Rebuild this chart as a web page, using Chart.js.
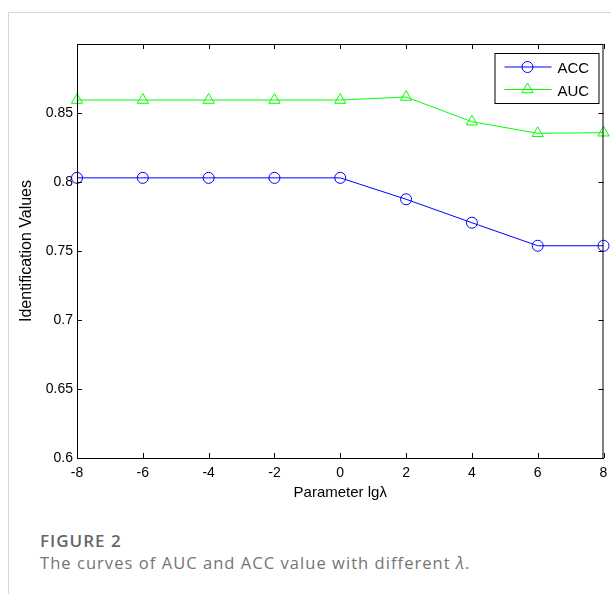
<!DOCTYPE html>
<html>
<head>
<meta charset="utf-8">
<script src="https://cdn.jsdelivr.net/npm/chart.js@4/dist/chart.umd.min.js"></script>
<style>
    body { margin: 0; background: #fff; }
    #frame {
        position: absolute; left: 8px; top: 12px; width: 603px; height: 582px;
        border-left: 1px solid #d6d6d6; border-top: 1px solid #d6d6d6;
    }
    #chartBox { position: absolute; left: 0; top: 0; width: 611px; height: 510px; }
    .figLabel {
        position: absolute; left: 40px; top: 529px; letter-spacing: 1px;
        font-family: "Open Sans", sans-serif; font-weight: 600; font-size: 17px; color: #666;
    }
    .figText {
        position: absolute; left: 40px; top: 551px; letter-spacing: 1.05px;
        font-family: "Open Sans", sans-serif; font-size: 16.5px; color: #747474;
    }
</style>
</head>
<body>
<div id="frame"></div>
<div id="chartBox"><canvas id="lambdaChart" width="611" height="510"></canvas></div>
<div class="figLabel">FIGURE 2</div>
<div class="figText">The curves of AUC and ACC value with different <i>λ</i>.</div>
<script>
// values
const lambdas = [-8, -6, -4, -2, 0, 2, 4, 6, 8];
const accValues = [0.803, 0.803, 0.803, 0.803, 0.803, 0.7875, 0.7705, 0.7538, 0.7538];
const aucValues = [0.8594, 0.8594, 0.8594, 0.8594, 0.8594, 0.8616, 0.8437, 0.8353, 0.8357];
const yTicks = [0.6, 0.65, 0.7, 0.75, 0.8, 0.85, 0.9];

// box around the axes with inward ticks, matlab style
const boxTicks = {
    id: 'boxTicks',
    afterDraw(chart) {
        const ctx = chart.ctx;
        const area = chart.chartArea;
        const x = chart.scales.x;
        const y = chart.scales.y;
        ctx.save();
        ctx.strokeStyle = '#000';
        ctx.lineWidth = 1;
        ctx.beginPath();
        ctx.rect(area.left + 0.5, area.top + 0.5, area.right - area.left - 1, area.bottom - area.top);
        lambdas.forEach(v => {
            const px = Math.round(x.getPixelForValue(v)) + 0.5;
            ctx.moveTo(px, area.bottom); ctx.lineTo(px, area.bottom - 5);
            ctx.moveTo(px, area.top); ctx.lineTo(px, area.top + 5);
        });
        yTicks.forEach(v => {
            const py = Math.round(y.getPixelForValue(v)) + 0.5;
            ctx.moveTo(area.left, py); ctx.lineTo(area.left + 5, py);
            ctx.moveTo(area.right, py); ctx.lineTo(area.right - 5, py);
        });
        ctx.stroke();
        ctx.restore();
    }
};

// legend box in the top right corner
const boxLegend = {
    id: 'boxLegend',
    afterDraw(chart) {
        const ctx = chart.ctx;
        const area = chart.chartArea;
        const left = area.right - 109, top = area.top + 9;
        ctx.save();
        ctx.fillStyle = '#fff';
        ctx.fillRect(left, top, 104, 50);
        ctx.strokeStyle = '#000';
        ctx.lineWidth = 1;
        ctx.strokeRect(left + 0.5, top + 0.5, 104, 50);
        const rows = [top + 14, top + 36.5];
        chart.data.datasets.forEach((ds, i) => {
            const cy = rows[i];
            ctx.strokeStyle = ds.borderColor;
            ctx.fillStyle = 'rgba(0,0,0,0)';
            ctx.beginPath();
            ctx.moveTo(left + 10, cy);
            ctx.lineTo(left + 57, cy);
            ctx.stroke();
            Chart.helpers.drawPoint(ctx, {
                pointStyle: ds.pointStyle, radius: ds.pointRadius, borderWidth: 1
            }, left + 33, cy);
            ctx.fillStyle = '#000';
            ctx.font = '15px "Liberation Sans", Arial, sans-serif';
            ctx.textBaseline = 'middle';
            ctx.fillText(ds.label, left + 63, cy + 2);
        });
        ctx.restore();
    }
};

new Chart(document.getElementById('lambdaChart'), {
    type: 'line',
    data: {
        labels: lambdas,
        datasets: [{
            label: 'ACC',
            data: accValues,
            borderColor: '#0000ff',
            backgroundColor: 'rgba(0,0,0,0)',
            pointStyle: 'circle',
            pointRadius: 5.5,
            borderWidth: 1,
            pointBorderWidth: 1,
            clip: false
        }, {
            label: 'AUC',
            data: aucValues,
            borderColor: '#00ff00',
            backgroundColor: 'rgba(0,0,0,0)',
            pointStyle: 'triangle',
            pointRadius: 6.5,
            borderWidth: 1,
            pointBorderWidth: 1,
            clip: false
        }]
    },
    options: {
        responsive: false,
        animation: false,
        layout: { padding: { left: 0, right: 6, top: 44, bottom: 0 } },
        plugins: { legend: { display: false }, tooltip: { enabled: false } },
        scales: {
            x: {
                type: 'linear',
                min: -8, max: 8,
                afterFit: scale => {
                    scale.height = 52;
                    scale.paddingLeft = 0;
                    scale.paddingRight = 0;
                },
                afterBuildTicks: scale => { scale.ticks = lambdas.map(v => ({ value: v })); },
                grid: { display: false, drawTicks: false },
                border: { display: true, color: '#000' },
                ticks: {
                    padding: 7,
                    color: '#000',
                    font: { family: '"Liberation Sans", Arial, sans-serif', size: 14 }
                },
                title: {
                    display: true,
                    text: 'Parameter lgλ',
                    color: '#000',
                    padding: { bottom: 8 },
                    font: { family: '"Liberation Sans", Arial, sans-serif', size: 15 }
                }
            },
            y: {
                min: 0.6, max: 0.9,
                afterFit: scale => {
                    scale.width = 77;
                    scale.paddingTop = 0;
                    scale.paddingBottom = 0;
                },
                afterBuildTicks: scale => { scale.ticks = yTicks.map(v => ({ value: v })); },
                grid: { display: false, drawTicks: false },
                border: { display: true, color: '#000' },
                ticks: {
                    padding: 4,
                    color: '#000',
                    font: { family: '"Liberation Sans", Arial, sans-serif', size: 14 },
                    callback: v => (v >= 0.9 ? '' : String(+v.toFixed(2)))
                },
                title: {
                    display: true,
                    text: 'Identification Values',
                    color: '#000',
                    padding: { top: 17 },
                    font: { family: '"Liberation Sans", Arial, sans-serif', size: 16 }
                }
            }
        }
    },
    plugins: [boxTicks, boxLegend]
});
</script>
</body>
</html>
